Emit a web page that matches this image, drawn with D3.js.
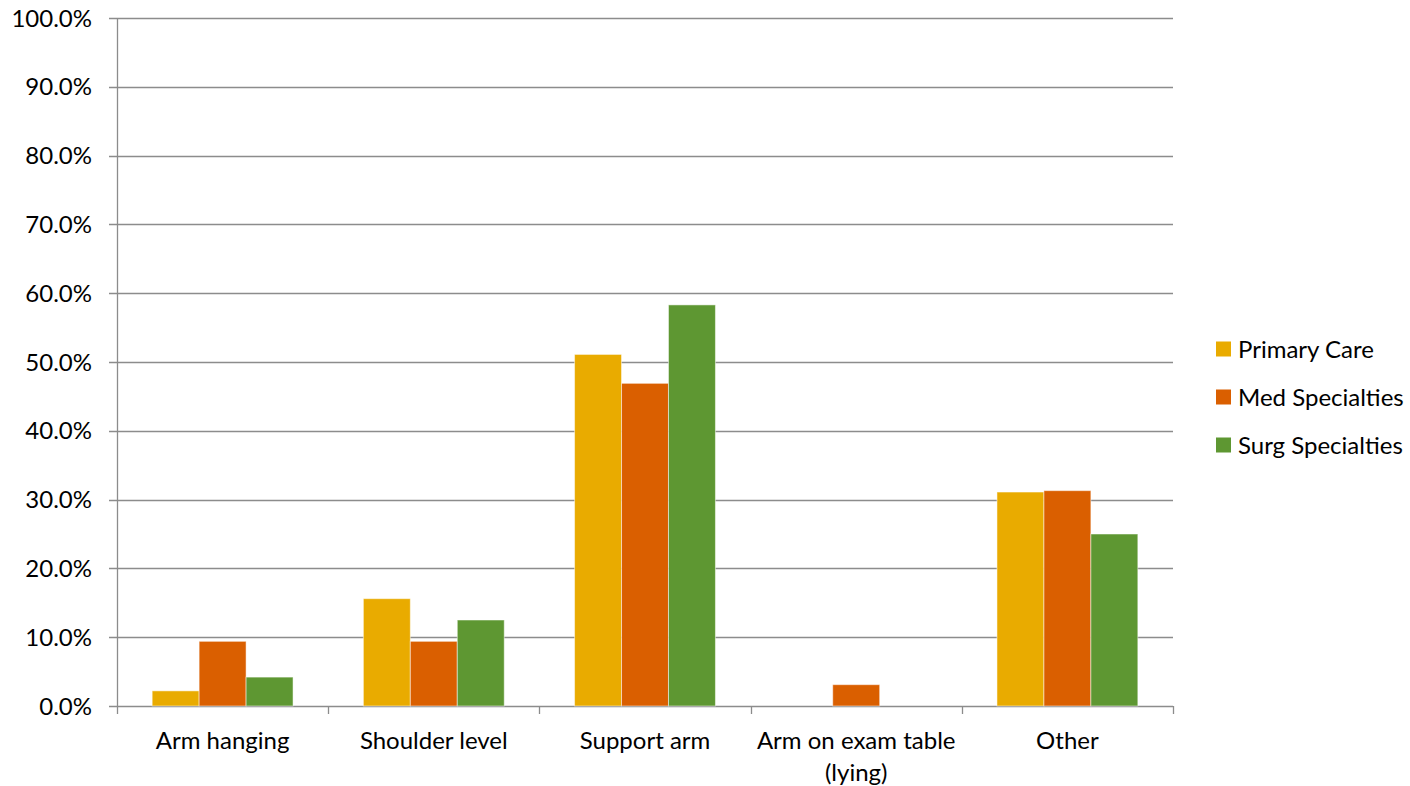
<!DOCTYPE html>
<html>
<head>
<meta charset="utf-8">
<script src="https://cdn.jsdelivr.net/npm/d3@7"></script>
<style>
  html, body { margin: 0; padding: 0; background: #fff; }
  svg { display: block; font-family: Lato, "Open Sans", sans-serif; }
</style>
</head>
<body>
<svg id="chart" width="1410" height="786"></svg>
<script>
// Arm positions used when measuring blood pressure, by specialty group
const categories = [["Arm hanging"], ["Shoulder level"], ["Support arm"], ["Arm on exam table", "(lying)"], ["Other"]];
const seriesNames = ["Primary Care", "Med Specialties", "Surg Specialties"];
const primaryCare = [2.2, 15.6, 51.1, 0.0, 31.1];
const medSpecialties = [9.4, 9.4, 46.9, 3.1, 31.3];
const surgSpecialties = [4.2, 12.5, 58.3, 0.0, 25.0];
const colors = ["#E9AB00", "#DA5F00", "#5E9732"];
const yTicks = [0, 10, 20, 30, 40, 50, 60, 70, 80, 90, 100];

const series = [primaryCare, medSpecialties, surgSpecialties];
const svg = d3.select("#chart");
const plotLeft = 117, plotRight = 1173, plotTop = 18, plotBottom = 706;
const fontSize = 24;

const x = d3.scaleBand().domain(d3.range(categories.length)).range([plotLeft, plotRight]).paddingInner(0.333).paddingOuter(0.1665);
const xAll = d3.scaleBand().domain(d3.range(categories.length)).range([plotLeft, plotRight]);
const xSub = d3.scaleBand().domain(d3.range(seriesNames.length)).range([0, x.bandwidth()]);
const y = d3.scaleLinear().domain([0, 100]).range([plotBottom, plotTop]);

// horizontal gridlines
svg.append("g").selectAll("line").data(yTicks).join("line")
  .attr("x1", plotLeft - 8).attr("x2", plotRight)
  .attr("y1", d => Math.round(y(d)) + 0.5).attr("y2", d => Math.round(y(d)) + 0.5)
  .attr("stroke", "#8c8c8c").attr("stroke-width", 1.3);

// y tick labels
svg.append("g").selectAll("text").data(yTicks).join("text")
  .attr("x", 92).attr("y", d => y(d)).attr("dy", "0.36em")
  .attr("text-anchor", "end").attr("font-size", fontSize).attr("fill", "#000")
  .text(d => d.toFixed(1) + "%");

// y axis line
svg.append("line").attr("x1", plotLeft + 0.5).attr("x2", plotLeft + 0.5).attr("y1", plotTop).attr("y2", plotBottom)
  .attr("stroke", "#8c8c8c").attr("stroke-width", 1.3);

// x axis category ticks
const bounds = d3.range(categories.length + 1).map(i => i < categories.length ? xAll(i) : plotRight);
svg.append("g").selectAll("line").data(bounds).join("line")
  .attr("x1", d => Math.round(d) + 0.5).attr("x2", d => Math.round(d) + 0.5)
  .attr("y1", plotBottom).attr("y2", plotBottom + 8)
  .attr("stroke", "#8c8c8c").attr("stroke-width", 1.3);

// bars
const groups = svg.append("g").selectAll("g").data(categories).join("g")
  .attr("transform", (d, i) => `translate(${x(i)},0)`);
groups.selectAll("rect").data((d, i) => series.map((s, k) => ({ k, v: s[i] })).filter(e => e.v > 0)).join("rect")
  .attr("x", e => xSub(e.k)).attr("width", xSub.bandwidth())
  .attr("y", e => y(e.v)).attr("height", e => plotBottom - y(e.v))
  .attr("fill", e => colors[e.k]).attr("stroke", "#fff").attr("stroke-opacity", 0.5).attr("stroke-width", 1);

// category labels
const labels = svg.append("g").selectAll("text").data(categories).join("text")
  .attr("text-anchor", "middle").attr("font-size", fontSize).attr("fill", "#000")
  .attr("transform", (d, i) => `translate(${xAll(i) + xAll.bandwidth() / 2},749)`);
labels.selectAll("tspan").data(d => d).join("tspan")
  .attr("x", 0).attr("dy", (d, j) => j === 0 ? 0 : 32).text(d => d);

// legend
const legend = svg.append("g").selectAll("g").data(seriesNames).join("g")
  .attr("transform", (d, i) => `translate(1216,${349 + i * 48})`);
legend.append("rect").attr("x", 0).attr("y", -7.5).attr("width", 15).attr("height", 15)
  .attr("fill", (d, i) => colors[i]);
legend.append("text").attr("x", 22).attr("y", 0).attr("dy", "0.36em")
  .attr("font-size", fontSize).attr("fill", "#000").text(d => d);
</script>
</body>
</html>
